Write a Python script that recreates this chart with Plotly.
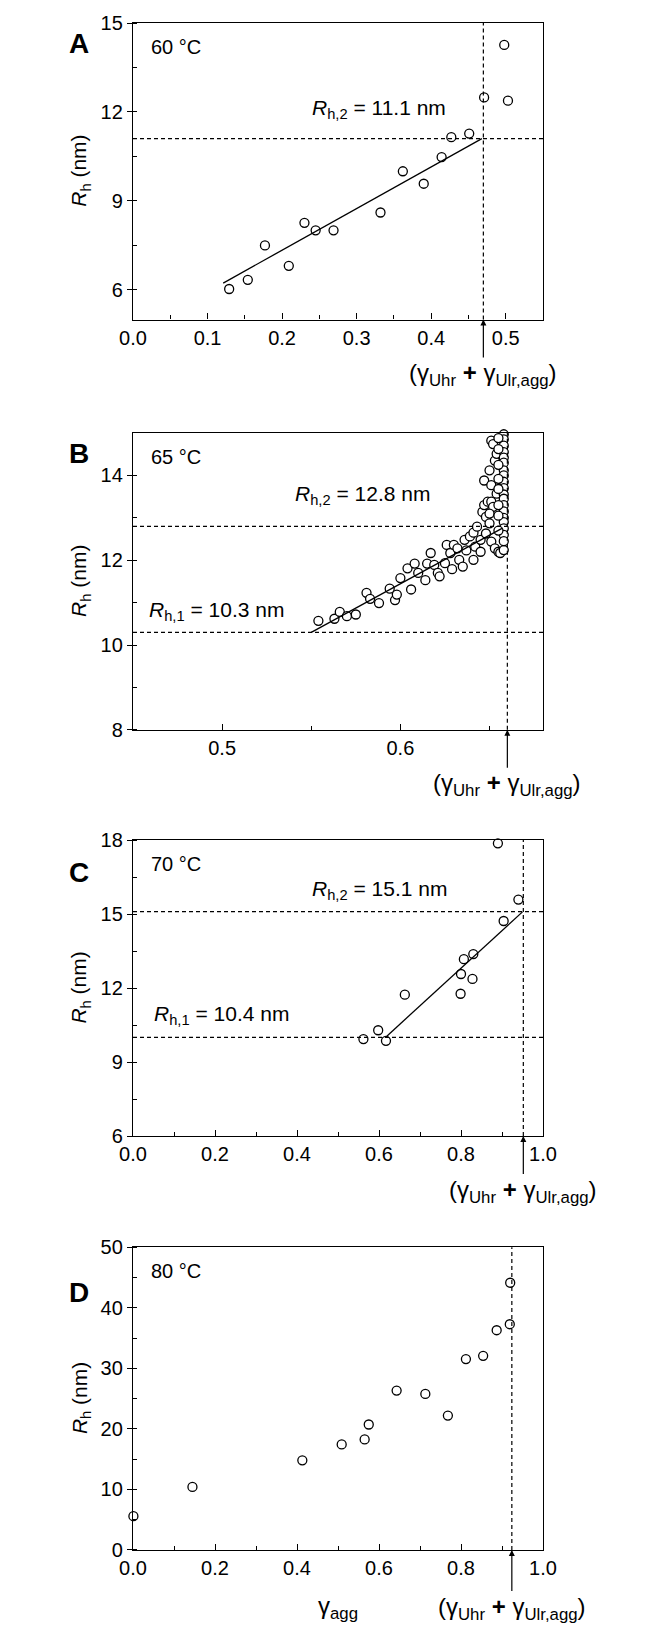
import plotly.graph_objects as go
from plotly.subplots import make_subplots

FONT = "Liberation Sans, Arial, Helvetica, sans-serif"

# ---- panel A, 60 C ----
a_gamma = [0.129, 0.154, 0.177, 0.209, 0.230, 0.245, 0.269, 0.332, 0.362, 0.390,
           0.414, 0.427, 0.451, 0.471, 0.498, 0.503]
a_rh = [6.03, 6.34, 7.50, 6.81, 8.26, 8.01, 8.01, 8.61, 10.00, 9.58,
        10.48, 11.15, 11.27, 12.49, 14.26, 12.38]
a_fit_gamma = [0.121, 0.468]
a_fit_rh = [6.23, 11.10]
a_cut = 0.47
a_levels = [11.1]

# ---- panel B, 65 C ----
b_gamma = [0.554, 0.563, 0.566, 0.570, 0.575, 0.581, 0.583, 0.588, 0.594, 0.597,
           0.598, 0.600, 0.606, 0.604, 0.608, 0.610, 0.614, 0.615, 0.617, 0.619,
           0.621, 0.622, 0.625, 0.626, 0.628, 0.629, 0.630, 0.632, 0.633, 0.635,
           0.636, 0.637, 0.639, 0.641, 0.642, 0.645, 0.641, 0.643, 0.645, 0.648,
           0.646, 0.647, 0.648, 0.650, 0.649, 0.651, 0.652, 0.650, 0.647, 0.650,
           0.651, 0.651, 0.652, 0.653, 0.654, 0.654, 0.651, 0.653, 0.655, 0.656,
           0.658, 0.658, 0.658, 0.658, 0.658, 0.658, 0.658, 0.658, 0.658, 0.658,
           0.658, 0.658, 0.658, 0.658, 0.658, 0.658, 0.658, 0.658, 0.658, 0.658,
           0.655, 0.655, 0.655, 0.655, 0.655, 0.655, 0.655, 0.655]
b_rh = [10.57, 10.62, 10.78, 10.68, 10.72, 11.23, 11.09, 10.99, 11.33, 11.06,
        11.19, 11.58, 11.31, 11.81, 11.92, 11.70, 11.53, 11.92, 12.17, 11.89,
        11.70, 11.62, 11.93, 12.36, 12.17, 11.79, 12.36, 12.28, 12.01, 11.85,
        12.48, 12.23, 12.56, 12.01, 12.32, 12.20, 12.65, 12.79, 12.48, 12.63,
        13.14, 13.30, 13.02, 12.87, 13.38, 13.38, 13.26, 13.10, 13.88, 14.12,
        13.77, 14.82, 14.74, 14.35, 14.51, 13.57, 12.44, 12.28, 12.20, 12.17,
        12.24, 14.97, 14.85, 14.70, 14.55, 14.42, 14.30, 14.12, 14.00, 13.85,
        13.70, 13.55, 13.45, 13.30, 13.15, 13.00, 12.90, 12.75, 12.60, 12.45,
        14.88, 14.62, 14.25, 13.92, 13.68, 13.30, 13.05, 12.70]
b_fit_gamma = [0.550, 0.657]
b_fit_rh = [10.30, 12.75]
b_cut = 0.66
b_levels = [12.8, 10.3]

# ---- panel C, 70 C ----
c_gamma = [0.890, 0.940, 0.904, 0.807, 0.830, 0.800, 0.828, 0.799, 0.663, 0.598,
           0.562, 0.617]
c_rh = [17.87, 15.59, 14.72, 13.17, 13.38, 12.57, 12.37, 11.77, 11.73, 10.29,
        9.93, 9.86]
c_fit_gamma = [0.619, 0.950]
c_fit_rh = [10.05, 15.09]
c_cut = 0.952
c_levels = [15.1, 10.0]

# ---- panel D, 80 C ----
d_gamma = [0.001, 0.145, 0.413, 0.509, 0.565, 0.575, 0.643, 0.713, 0.768, 0.812,
           0.854, 0.887, 0.919, 0.920]
d_rh = [5.59, 10.42, 14.80, 17.43, 18.26, 20.72, 26.32, 25.77, 22.20, 31.52,
        32.07, 36.29, 37.28, 44.13]
d_cut = 0.924

gamma_sum = "(γ<sub>Uhr</sub> <b>+</b> γ<sub>Ulr,agg</sub>)"

panels = [
    dict(letter="A", temp="60 °C", x=a_gamma, y=a_rh, fx=a_fit_gamma, fy=a_fit_rh,
         cut=a_cut, levels=a_levels, xr=[0, 0.55], yr=[5, 15],
         xtick=dict(dtick=0.1, tick0=0), xminor=0.05, ydt=3, yminor=1.5,
         notes=[("<i>R</i><sub>h,2</sub> = 11.1 nm", 0.431, 0.71)],
         dom=[0.8058, 1.0], letter_y=0.93, temp_y=0.92),
    dict(letter="B", temp="65 °C", x=b_gamma, y=b_rh, fx=b_fit_gamma, fy=b_fit_rh,
         cut=b_cut, levels=b_levels, xr=[0.45, 0.68], yr=[8, 15],
         xtick=dict(tickvals=[0.5, 0.6]), xminor=0.05, ydt=2, yminor=1,
         notes=[("<i>R</i><sub>h,2</sub> = 12.8 nm", 0.390, 0.79),
                ("<i>R</i><sub>h,1</sub> = 10.3 nm", 0.034, 0.40)],
         dom=[0.5371, 0.7315], letter_y=0.93, temp_y=0.92),
    dict(letter="C", temp="70 °C", x=c_gamma, y=c_rh, fx=c_fit_gamma, fy=c_fit_rh,
         cut=c_cut, levels=c_levels, xr=[0, 1.0], yr=[6, 18],
         xtick=dict(dtick=0.2, tick0=0), xminor=0.1, ydt=3, yminor=1.5,
         notes=[("<i>R</i><sub>h,2</sub> = 15.1 nm", 0.431, 0.83),
                ("<i>R</i><sub>h,1</sub> = 10.4 nm", 0.046, 0.41)],
         dom=[0.2711, 0.4649], letter_y=0.89, temp_y=0.92),
    dict(letter="D", temp="80 °C", x=d_gamma, y=d_rh, fx=None, fy=None,
         cut=d_cut, levels=[], xr=[0, 1.0], yr=[0, 50],
         xtick=dict(dtick=0.2, tick0=0), xminor=0.1, ydt=10, yminor=5,
         notes=[], dom=[0.0, 0.1983], letter_y=0.85, temp_y=0.92),
]

fig = make_subplots(rows=4, cols=1)
dash_style = dict(color="black", width=1.2, dash="4px,3px")

for i, p in enumerate(panels):
    row = i + 1
    fig.add_trace(go.Scatter(
        x=p["x"], y=p["y"], mode="markers", cliponaxis=False,
        marker=dict(symbol="circle", size=9, color="white",
                    line=dict(color="black", width=1.3)),
        showlegend=False), row=row, col=1)
    if p["fx"] is not None:
        fig.add_trace(go.Scatter(x=p["fx"], y=p["fy"], mode="lines",
                                 line=dict(color="black", width=1.3),
                                 showlegend=False), row=row, col=1)
    for lv in p["levels"]:
        fig.add_hline(y=lv, line=dash_style, row=row, col=1)
    fig.add_vline(x=p["cut"], line=dash_style, row=row, col=1)

    sfx = "" if row == 1 else str(row)
    xa, ya = "x" + sfx, "y" + sfx
    fig.update_layout(**{
        "xaxis" + sfx: dict(range=p["xr"], domain=[0, 1], tickformat=".1f",
                            ticks="inside", ticklen=6, tickwidth=1.2,
                            minor=dict(ticks="inside", ticklen=4, tickwidth=1.2,
                                       dtick=p["xminor"], showgrid=False),
                            **p["xtick"]),
        "yaxis" + sfx: dict(range=p["yr"], domain=p["dom"], dtick=p["ydt"], tick0=0,
                            ticks="outside", ticklen=5, tickwidth=1.2,
                            minor=dict(ticks="inside", ticklen=4, tickwidth=1.2,
                                       dtick=p["yminor"], showgrid=False)),
    })

    dref = dict(xref=xa + " domain", yref=ya + " domain", showarrow=False)
    # panel letter, temperature
    fig.add_annotation(text="<b>" + p["letter"] + "</b>", x=-0.132, y=p["letter_y"],
                       xanchor="center", yanchor="middle",
                       font=dict(size=28), **dref)
    fig.add_annotation(text=p["temp"], x=0.04, y=p["temp_y"],
                       xanchor="left", yanchor="middle", font=dict(size=20), **dref)
    for txt, nx, ny in p["notes"]:
        fig.add_annotation(text=txt, x=nx, y=ny, xanchor="left", yanchor="middle",
                           font=dict(size=21), **dref)
    # y title
    fig.add_annotation(text="<i>R</i><sub>h</sub> (nm)", x=-0.128, y=0.5,
                       xanchor="center", yanchor="middle", textangle=-90,
                       font=dict(size=21), **dref)
    # arrow + label
    fig.add_annotation(text=gamma_sum, xref=xa, yref=ya + " domain",
                       x=p["cut"], y=0, ax=0, ay=58 if row == 4 else 55,
                       showarrow=True, arrowhead=2, arrowsize=1, arrowwidth=1.2,
                       arrowcolor="black", font=dict(size=24))

fig.add_annotation(text="γ<sub>agg</sub>", xref="x4 domain", yref="y4 domain",
                   x=0.5, y=-0.19, xanchor="center", yanchor="middle",
                   showarrow=False, font=dict(size=24))

fig.update_xaxes(showline=True, mirror=True, linecolor="black", linewidth=1.3,
                 showgrid=False, zeroline=False, tickcolor="black",
                 tickfont=dict(size=20))
fig.update_yaxes(showline=True, mirror=True, linecolor="black", linewidth=1.3,
                 showgrid=False, zeroline=False, tickcolor="black",
                 tickfont=dict(size=20))

fig.update_layout(
    width=670, height=1632,
    margin=dict(l=133, r=127, t=12, b=82),
    paper_bgcolor="white", plot_bgcolor="white",
    font=dict(family=FONT, color="black", size=20),
    showlegend=False,
)

fig.write_html("out.html", config={"displayModeBar": False},
               post_script="document.body.style.margin='0';")
